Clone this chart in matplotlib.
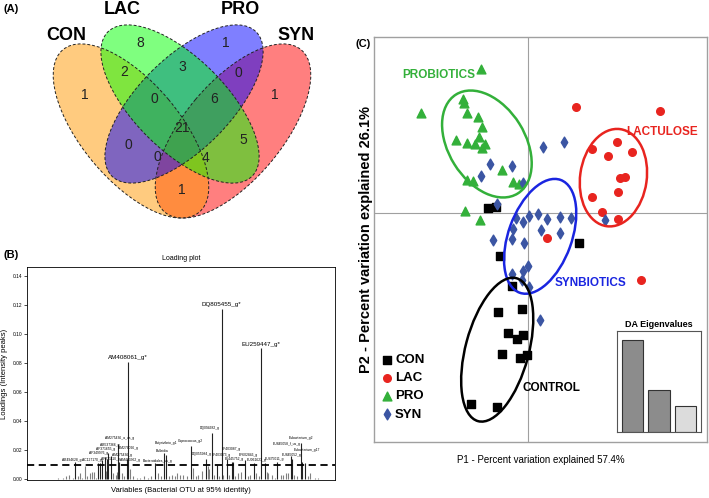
import numpy as np
import matplotlib.pyplot as plt
from matplotlib.patches import Ellipse
from matplotlib import font_manager

installed = {f.name for f in font_manager.fontManager.ttflist}
narrow = 'Liberation Sans Narrow' if 'Liberation Sans Narrow' in installed else 'Liberation Sans'
plt.rcParams['font.family'] = ['Liberation Sans', 'DejaVu Sans']

# ---------------- data ----------------
# (A) Venn counts
venn_sets = ['CON', 'LAC', 'PRO', 'SYN']
venn_colors = ['#ff9900', '#00ff00', '#0000ff', '#ff0000']
venn_regions = ['LAC', 'PRO', 'CON&LAC', 'LAC&PRO', 'PRO&SYN', 'CON',
                'CON&LAC&PRO', 'LAC&PRO&SYN', 'SYN', 'ALL', 'CON&PRO',
                'LAC&SYN', 'CON&PRO&SYN', 'CON&LAC&SYN', 'CON&SYN']
venn_counts = [8, 1, 2, 3, 0, 1, 0, 6, 1, 21, 0, 5, 0, 4, 1]

# (B) loadings per OTU (variable index, loading)
otu_idx = [5, 9, 12, 14, 17, 19, 21, 23, 25, 27, 29, 31, 33, 34, 36, 38, 39, 41,
           43, 44, 45, 46, 48, 50, 52, 53, 54, 55, 57, 59, 61, 62, 64, 66, 69,
           72, 75, 78, 81, 84, 86, 89, 91, 93, 95, 98, 100, 102, 104, 107, 110,
           113, 115, 117, 119, 122, 125, 127, 128, 130, 132, 134, 136, 138, 139,
           142, 144, 146, 147, 149, 151, 154, 157, 159, 161, 164, 166, 168, 170,
           173, 175, 176, 179, 181, 183, 186, 188, 190, 192, 194, 195, 197, 199,
           202, 203, 206, 208, 210, 214, 216]
otu_load = [0.001, 0.001, 0.002, 0.003, 0.001, 0.012, 0.002, 0.004, 0.001, 0.009,
            0.002, 0.004, 0.005, 0.005, 0.001, 0.011, 0.011, 0.013, 0.015, 0.006,
            0.014, 0.018, 0.016, 0.004, 0.003, 0.005, 0.024, 0.012, 0.004, 0.002,
            0.014, 0.081, 0.007, 0.002, 0.001, 0.001, 0.002, 0.001, 0.002, 0.011,
            0.004, 0.002, 0.018, 0.017, 0.002, 0.003, 0.002, 0.004, 0.003, 0.003,
            0.002, 0.023, 0.008, 0.002, 0.003, 0.006, 0.014, 0.009, 0.007, 0.032,
            0.003, 0.010, 0.002, 0.117, 0.003, 0.014, 0.003, 0.012, 0.012, 0.002,
            0.004, 0.005, 0.013, 0.002, 0.003, 0.011, 0.004, 0.002, 0.090, 0.011,
            0.005, 0.004, 0.003, 0.001, 0.012, 0.003, 0.003, 0.004, 0.004, 0.016,
            0.014, 0.003, 0.002, 0.025, 0.012, 0.011, 0.002, 0.004, 0.001, 0.001]
otu_labels = ['AB494628_g', 'AC127170_g', 'AF349976_g', 'AF371655_g',
              'AF271110_g', 'AB537366_g', 'AM275436_g', 'AM275436_a_us_g',
              'AM276026_g', 'AM403362_g', 'Bacteroidales_us_g', 'Bulleidia',
              'Butyrivibrio_g1', 'Coprococcus_g2', 'DQ055984_g', 'DQ094682_g',
              'EF403073_g', 'EF403087_g', 'EF445752_g', 'EF602846_g',
              'EU061623_g', 'EU475011_g', 'EU845052_g', 'EU845058_f_us_g',
              'Eubacterium_g2', 'Eubacterium_g17']
big_labels = ['AM408061_g*', 'DQ805455_g*', 'EU259447_g*']

# (C) discriminant analysis scores
con_x = [-1.19, -0.96, 1.53, -0.84, -0.47, -0.89, -0.19, -0.61, -0.34, -0.14,
         -0.79, -0.24, -0.04, -1.71, -0.94]
con_y = [0.14, 0.17, -0.89, -1.29, -2.18, -2.96, -2.88, -3.59, -3.79, -3.66,
         -4.23, -4.36, -4.26, -5.74, -5.83]
lac_x = [1.44, 3.98, 1.94, 2.41, 2.69, 3.14, 2.76, 2.91, 2.72, 1.94, 2.23, 2.72,
         0.58, 3.41]
lac_y = [3.19, 3.06, 1.92, 1.72, 2.12, 1.84, 1.06, 1.09, 0.64, 0.49, 0.04, -0.18,
         -0.76, -2.01]
pro_x = [-1.41, -3.20, -1.94, -1.92, -1.84, -1.50, -1.38, -2.16, -1.82, -1.59,
         -1.46, -1.28, -1.38, -0.78, -1.82, -1.66, -0.44, -0.26, -1.88, -1.44]
pro_y = [4.32, 2.99, 3.41, 3.29, 3.01, 2.89, 2.59, 2.19, 2.11, 2.06, 2.29, 2.07,
         1.95, 1.29, 0.99, 0.97, 0.94, 0.87, 0.07, -0.21]
syn_x = [0.46, 1.09, -1.14, -0.47, -1.42, -0.16, -0.92, 2.31, -0.37, 0.04, 0.30,
         0.58, 0.97, 1.31, -0.14, -0.46, 0.41, 0.97, -1.06, -0.48, -0.13, 0.00,
         -0.14, -0.49, -0.18, 0.04, 0.36]
syn_y = [1.99, 2.12, 1.46, 1.42, 1.12, 0.89, 0.27, -0.21, -0.16, -0.09, -0.03,
         -0.18, -0.13, -0.14, -0.28, -0.48, -0.51, -0.61, -0.81, -0.79, -0.89,
         -1.59, -1.73, -1.83, -2.01, -2.21, -3.21]
eigen_vals = [57.4, 26.1, 16.5]

fig = plt.figure(figsize=(7.09, 4.98), dpi=100)


def px_axes(x0, y0, x1, y1):
    return fig.add_axes([x0 / 709, 1 - y1 / 498, (x1 - x0) / 709, (y1 - y0) / 498])


# ---------------- (A) Venn ----------------
axA = px_axes(0, 0, 330, 225)
axA.set_xlim(0, 330)
axA.set_ylim(225, 0)
axA.axis('off')
ell_geom = [((131, 131), 212, 98, 50), ((180, 104), 204, 92, 45),
            ((184, 104), 204, 92, -45), ((233, 131), 212, 98, -50)]
# fill order as in the original: SYN, CON, PRO, LAC
for k in [3, 0, 2, 1]:
    c, w, h, ang = ell_geom[k]
    axA.add_patch(Ellipse(c, w, h, angle=ang, facecolor=venn_colors[k], alpha=0.5,
                          edgecolor='none'))
for c, w, h, ang in ell_geom:
    axA.add_patch(Ellipse(c, w, h, angle=ang, facecolor='none', edgecolor='#222222',
                          lw=0.7, ls=(0, (3, 2))))
region_xy = [(140, 43), (226, 43), (124, 72), (182, 67), (238, 73), (85, 95),
             (154, 99), (214, 99), (275, 95), (182, 128), (128, 145), (243, 140),
             (157, 157), (206, 158), (182, 190)]
for (x, y), n in zip(region_xy, venn_counts):
    axA.text(x, y, str(n), ha='center', va='center', fontsize=10, color='#222222')
set_xy = [(66, 35), (122, 9), (240, 9), (296, 35)]
for (x, y), s in zip(set_xy, venn_sets):
    axA.text(x, y, s, ha='center', va='center', fontsize=13, fontweight='bold')
fig.text(3 / 709, 1 - 9 / 498, '(A)', fontsize=8, fontweight='bold', va='center')
fig.text(3 / 709, 1 - 255 / 498, '(B)', fontsize=8, fontweight='bold', va='center')

# ---------------- (B) loading plot ----------------
axB = px_axes(27, 267, 335, 480)
idx = np.array(otu_idx)
val = np.array(otu_load)
cols = np.where(val >= 0.01, '#222222', '#808080')
axB.vlines(idx, 0, val, colors=cols, lw=0.8)
axB.axhline(0.01, color='black', lw=1.3, ls=(0, (4, 2.5)))
axB.set_xlim(-20, 230)
axB.set_ylim(-0.0005, 0.146)
axB.set_xticks([])
axB.set_yticks(np.arange(0, 0.141, 0.02))
axB.set_yticklabels(['%.2f' % t for t in np.arange(0, 0.141, 0.02)])
axB.tick_params(axis='y', labelsize=3.5, length=2, width=0.5, pad=1)
for s in axB.spines.values():
    s.set_linewidth(0.6)
axB.set_title('Loading plot', fontsize=5, pad=5, family=narrow)
axB.set_ylabel('Loadings (Intensity peaks)', fontsize=5.5, labelpad=4, family=narrow)
axB.set_xlabel('Variables (Bacterial OTU at 95% identity)', fontsize=5.5, labelpad=5,
               family=narrow)
lab_xy = [(16, 0.0135), (33, 0.0135), (38, 0.0178), (43.6, 0.0207), (48, 0.014),
          (47, 0.0236), (57, 0.0166), (55, 0.0282), (62, 0.0212), (64, 0.0130),
          (86, 0.0128), (89.7, 0.0195), (93, 0.025), (112.4, 0.0265), (122, 0.0176),
          (128.6, 0.0354), (138, 0.0168), (146, 0.0205), (148, 0.0136),
          (160, 0.0165), (166, 0.0131), (181, 0.0139), (195, 0.0169),
          (191, 0.0244), (202, 0.0284), (207, 0.0199)]
for (x, y), s in zip(lab_xy, otu_labels):
    axB.text(x, y, s, fontsize=2.4, ha='center', va='center', family=narrow)
for pos, s in zip([62, 138, 170], big_labels):
    axB.text(pos, otu_load[otu_idx.index(pos)] + 0.003, s, fontsize=4.5,
             ha='center', va='center', family=narrow)

# ---------------- (C) DA plot ----------------
axC = px_axes(374, 37, 707, 442)
axC.set_xlim(-4.62, 5.38)
axC.set_ylim(-6.87, 5.28)
axC.axhline(0, color='#a0a0a0', lw=0.8, zorder=0)
axC.axvline(0, color='#a0a0a0', lw=0.8, zorder=0)
axC.set_xticks([])
axC.set_yticks([])
for s in axC.spines.values():
    s.set_color('#a0a0a0')
    s.set_linewidth(1.0)

green, red, blue, navy = '#33b03a', '#e8241f', '#1a25e0', '#3b55a3'
h_con = axC.scatter(con_x, con_y, marker='s', s=30, color='black', label='CON', zorder=3)
h_lac = axC.scatter(lac_x, lac_y, marker='o', s=30, color=red, label='LAC', zorder=3)
h_pro = axC.scatter(pro_x, pro_y, marker='^', s=40, color=green, label='PRO', zorder=3)
h_syn = axC.scatter(syn_x, syn_y, marker='d', s=30, color=navy, label='SYN', zorder=3)

for c, w, h, ang, col in [((-1.23, 2.07), 3.5, 2.3, -58, green),
                          ((2.57, 1.06), 2.94, 2.0, 82, red),
                          ((0.37, -0.70), 3.6, 1.9, 70, blue),
                          ((-0.92, -4.10), 4.44, 1.9, 75, 'black')]:
    axC.add_patch(Ellipse(c, w, h, angle=ang, facecolor='none', edgecolor=col, lw=1.8,
                          zorder=4))

axC.text(-2.69, 4.14, 'PROBIOTICS', color=green, fontsize=8.5, fontweight='bold',
         ha='center', va='center', family=narrow)
axC.text(4.02, 2.43, 'LACTULOSE', color=red, fontsize=8.5, fontweight='bold',
         ha='center', va='center', family=narrow)
axC.text(1.89, -2.1, 'SYNBIOTICS', color=blue, fontsize=8.5, fontweight='bold',
         ha='center', va='center', family=narrow)
axC.text(-0.15, -5.26, 'CONTROL', color='black', fontsize=8.5, fontweight='bold',
         ha='left', va='center', family=narrow)

axC.legend(handles=[h_con, h_lac, h_pro, h_syn], loc='lower left',
           bbox_to_anchor=(0.0, 0.03), frameon=False, handlelength=0.6,
           handletextpad=0.3, labelspacing=0.45, borderaxespad=0.3,
           prop={'family': narrow, 'weight': 'bold', 'size': 9.5})

axC.set_ylabel('P2 - Percent variation explained 26.1%', fontsize=10.5,
               fontweight='bold', labelpad=1)
axC.set_xlabel('P1 - Percent variation explained 57.4%', fontsize=7, labelpad=9,
               family=narrow)
fig.text(356 / 709, 1 - 44 / 498, '(C)', fontsize=8, fontweight='bold', va='center')

axI = px_axes(617, 331, 701, 432)
axI.bar(range(3), eigen_vals, width=0.82, color=['#8c8c8c', '#8c8c8c', '#dcdcdc'],
        edgecolor='#333333', lw=0.8)
axI.set_xlim(-0.58, 2.58)
axI.set_ylim(0, 63)
axI.set_xticks([])
axI.set_yticks([])
for s in axI.spines.values():
    s.set_color('#555555')
    s.set_linewidth(0.8)
axI.set_title('DA Eigenvalues', fontsize=6.5, fontweight='bold', pad=3, family=narrow)

fig.savefig('out.png', dpi=100)
